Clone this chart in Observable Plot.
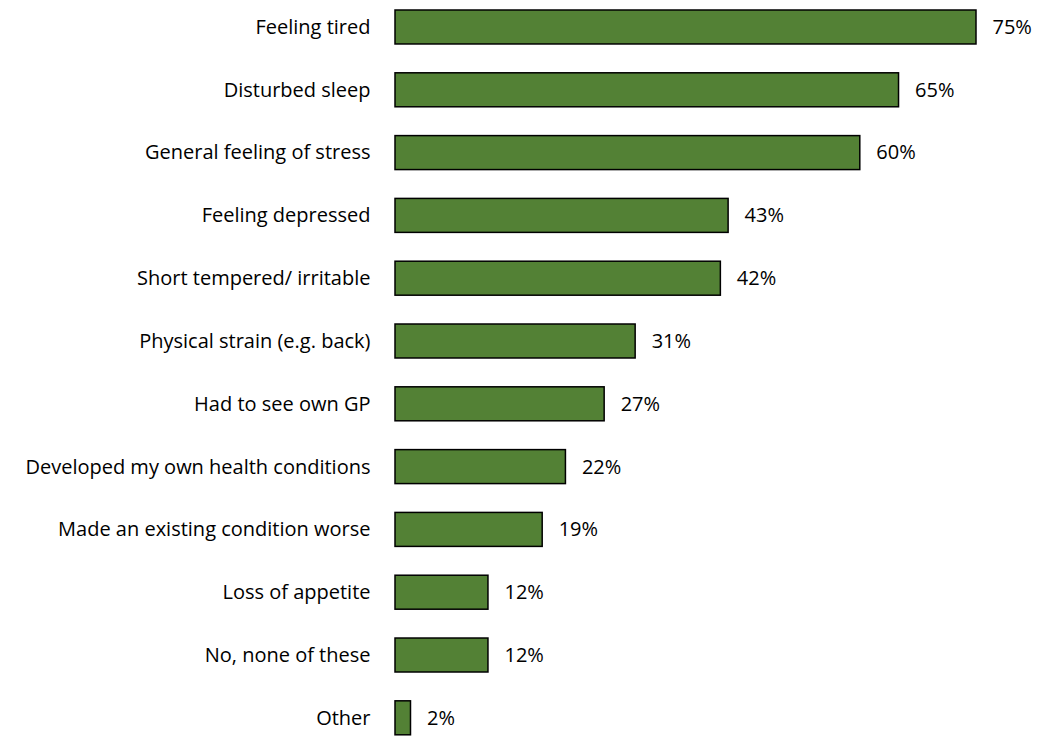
<!DOCTYPE html>
<html>
<head>
<meta charset="utf-8">
<script src="https://cdn.jsdelivr.net/npm/d3@7"></script>
<script src="https://cdn.jsdelivr.net/npm/@observablehq/plot@0.6"></script>
<style>
  html, body { margin: 0; padding: 0; background: #fff; }
  #chart svg { display: block; }
</style>
</head>
<body>
<div id="chart"></div>
<script>
const categories = [
  "Feeling tired",
  "Disturbed sleep",
  "General feeling of stress",
  "Feeling depressed",
  "Short tempered/ irritable",
  "Physical strain (e.g. back)",
  "Had to see own GP",
  "Developed my own health conditions",
  "Made an existing condition worse",
  "Loss of appetite",
  "No, none of these",
  "Other"
];
const values = [75, 65, 60, 43, 42, 31, 27, 22, 19, 12, 12, 2];

const data = categories.map((c, i) => ({category: c, value: values[i]}));

const chart = Plot.plot({
  width: 1041,
  height: 736,
  marginTop: 0,
  marginBottom: 0,
  marginLeft: 395,
  marginRight: 65,
  style: {fontFamily: "'Open Sans', sans-serif", fontSize: "20px", color: "#000", background: "#fff"},
  x: {domain: [0, 75], range: [395, 976], axis: null},
  y: {domain: categories, range: [10, 734.8], paddingInner: 0.459, paddingOuter: 0, round: false, label: null},
  marks: [
    Plot.axisY({tickSize: 0, tickPadding: 25, label: null, fontSize: 20, fill: "#000"}),
    Plot.barX(data, {x: "value", y: "category", fill: "#538135", stroke: "#000", strokeWidth: 1.5}),
    Plot.text(data, {x: "value", y: "category", text: d => d.value + "%", textAnchor: "start", dx: 16, fontSize: 20, fill: "#000"})
  ]
});
document.getElementById("chart").appendChild(chart);
</script>
</body>
</html>
